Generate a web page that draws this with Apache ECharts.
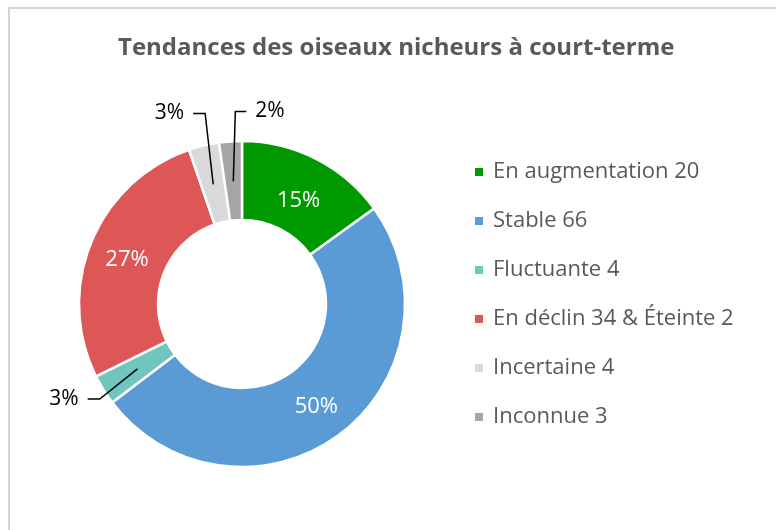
<!DOCTYPE html>
<html>
<head>
<meta charset="utf-8">
<script src="https://cdn.jsdelivr.net/npm/echarts@6/dist/echarts.min.js"></script>
<style>
  html, body { margin: 0; padding: 0; background: #ffffff; }
  #chart { width: 776px; height: 530px; }
</style>
</head>
<body>
<div id="chart"></div>
<script>
const titleText = "Tendances des oiseaux nicheurs à court-terme";
const categories = ["En augmentation 20", "Stable 66", "Fluctuante 4", "En déclin 34 & Éteinte 2", "Incertaine 4", "Inconnue 3"];
const values = [20, 66, 4, 36, 4, 3];
const colors = ["#009900", "#5b9bd5", "#70c6bd", "#dd5757", "#d9d9d9", "#a5a5a5"];
const outsideIdx = [2, 4, 5];

// styling helpers (not data)
const lineLen = { 2: [8, 12], 4: [33, 12], 5: [30, 11] };
const bendShift = { 2: [3, 5], 4: [9, 0], 5: [7, 0] };
const insideOffset = { 0: [-1, 9], 3: [2, 4], 1: [-1, 1] };
const pct = p => Math.round(p.percent) + '%';

const center = [242, 304];
const radius = [84, 163];

const mainData = values.map((v, i) => {
  const item = { value: v, name: categories[i], itemStyle: { color: colors[i] } };
  if (outsideIdx.includes(i)) item.label = { show: false };
  else item.label = { show: true, offset: insideOffset[i] || [0, 0] };
  return item;
});

const overlayData = values.map((v, i) => {
  const item = { value: v, name: categories[i] };
  if (outsideIdx.includes(i)) {
    item.label = { show: true };
    item.labelLine = { show: true, length: lineLen[i][0], length2: lineLen[i][1] };
  } else {
    item.label = { show: false };
    item.labelLine = { show: false };
  }
  return item;
});

const chart = echarts.init(document.getElementById('chart'), null, { renderer: 'canvas' });
chart.setOption({
  animation: false,
  backgroundColor: '#ffffff',
  graphic: [{
    type: 'rect', silent: true, z: -10,
    shape: { x: 9, y: 8, width: 900, height: 900 },
    style: { fill: 'none', stroke: '#d4d4d4', lineWidth: 2 }
  }],
  title: {
    text: titleText,
    left: 113, top: 31,
    textStyle: { fontFamily: 'Open Sans', fontWeight: 'bold', fontSize: 24, color: '#595959' }
  },
  legend: {
    orient: 'vertical',
    left: 468, top: 156,
    itemWidth: 10, itemHeight: 10, itemGap: 27,
    icon: 'rect',
    data: categories,
    textStyle: { fontFamily: 'Open Sans', fontSize: 22, lineHeight: 20, color: '#595959', padding: [0, 0, 0, 4] }
  },
  series: [{
    type: 'pie',
    z: 2,
    center: center,
    radius: radius,
    startAngle: 90,
    clockwise: true,
    avoidLabelOverlap: false,
    itemStyle: { borderColor: '#ffffff', borderWidth: 2.5 },
    label: {
      show: true,
      position: 'inside',
      color: '#ffffff',
      fontFamily: 'Open Sans',
      fontSize: 22,
      formatter: pct
    },
    labelLine: { show: false },
    emphasis: { disabled: true },
    data: mainData
  }, {
    type: 'pie',
    z: 5,
    silent: true,
    center: center,
    radius: radius,
    startAngle: 90,
    clockwise: true,
    avoidLabelOverlap: false,
    itemStyle: { color: 'rgba(0,0,0,0)', borderWidth: 0 },
    label: {
      show: false,
      position: 'outside',
      color: '#000000',
      fontFamily: 'Open Sans',
      fontSize: 21,
      distanceToLabelLine: 8,
      formatter: pct
    },
    labelLine: { show: false, lineStyle: { color: '#000000', width: 1.5 } },
    labelLayout: function (p) {
      const i = p.dataIndex;
      if (!outsideIdx.includes(i) || !p.labelLinePoints) return {};
      const pts = p.labelLinePoints.map(q => q.slice());
      const dx = pts[1][0] - pts[0][0], dy = pts[1][1] - pts[0][1];
      const len = Math.hypot(dx, dy) || 1;
      const inward = 40;
      pts[0] = [pts[0][0] - dx / len * inward, pts[0][1] - dy / len * inward];
      const h = Math.abs(pts[2][0] - pts[1][0]);
      pts[1] = [pts[1][0] + bendShift[i][0], pts[1][1] + bendShift[i][1]];
      if (i === 5) {
        pts[2] = [pts[1][0] + h, pts[1][1]];
        return { labelLinePoints: pts, x: pts[2][0] + 9, y: pts[2][1], align: 'left', verticalAlign: 'middle' };
      }
      pts[2] = [pts[1][0] - h, pts[1][1]];
      return { labelLinePoints: pts, x: pts[2][0] - 9, y: pts[2][1], align: 'right', verticalAlign: 'middle' };
    },
    emphasis: { disabled: true },
    data: overlayData
  }]
});
</script>
</body>
</html>
